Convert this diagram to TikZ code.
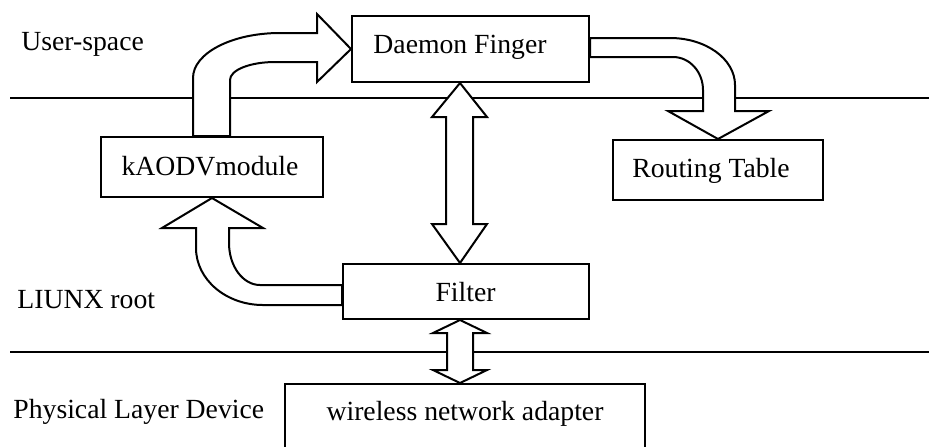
\documentclass[tikz,border=0pt]{standalone}
\usepackage{fontspec}
\setmainfont{Liberation Serif}
\begin{document}
\begin{tikzpicture}[x=0.5pt,y=-0.5pt,
  box/.style={draw,line width=1pt,inner sep=0pt,fill=white},
  lbl/.style={anchor=base,inner sep=0pt,font=\fontsize{13.85}{16}\selectfont},
  lbll/.style={lbl,anchor=base west},
  blockarrow/.style={draw,fill=white,line width=1pt,line join=miter},
  layerline/.style={line width=1pt}]
\useasboundingbox (0,0) rectangle (929,446);

% layer separators
\coordinate (l1a) at (10,98);  \coordinate (l1b) at (929,98);
\coordinate (l2a) at (10,352); \coordinate (l2b) at (929,352);
\draw[layerline] (l1a) -- (l1b);
\draw[layerline] (l2a) -- (l2b);

% layer names
\node[lbll] (us) at (21,50) {User-space};
\node[lbll] (lr) at (17,308) {LIUNX root};
\node[lbll] (pl) at (13,418) {Physical Layer Device};

% blocks
\node[box,minimum width=118.5pt,minimum height=33pt] (daemon) at (470.5,49) {};
\node[box,minimum width=105pt,minimum height=30pt] (route) at (718,170) {};
\node[box,minimum width=111pt,minimum height=30pt] (kaodv) at (212,167) {};
\node[box,minimum width=123pt,minimum height=27.5pt] (filter) at (466,291.5) {};
\node[box,minimum width=180pt,minimum height=45pt] (wlan) at (465,429) {};

% kAODV module -> Daemon Finger
\draw[blockarrow] (kaodv.north -| 193,0) -- (193,78)
  .. controls (193,53.1) and (232,33) .. (280,33) -- (317,33) -- (317,14)
  -- (daemon.west) -- (317,82) -- (317,62) -- (275,62)
  .. controls (250,62) and (230,70) .. (230,80) -- (kaodv.north -| 230,0) -- cycle;

% Daemon Finger -> Routing Table
\draw[blockarrow] (daemon.east |- 0,38) -- (670,38)
  .. controls (705.9,38) and (735,59) .. (735,85) -- (735,111) -- (769,111)
  -- (route.north) -- (668,111) -- (703,111) -- (703,90)
  .. controls (703,71.8) and (689.6,57) .. (673,57) -- (daemon.east |- 0,57) -- cycle;

% Filter -> kAODV module
\draw[blockarrow] (filter.west |- 0,305) -- (263,305)
  .. controls (226,305) and (196,279.5) .. (196,248) -- (196,228) -- (162,228)
  -- (kaodv.south) -- (263,228) -- (229,228) -- (229,243)
  .. controls (229,266.2) and (242.9,285) .. (260,285) -- (filter.west |- 0,285) -- cycle;

% Daemon Finger <-> Filter
\draw[blockarrow] (daemon.south -| 460,0) -- (487,117) -- (473,117) -- (473,224)
  -- (487,224) -- (filter.north -| 460,0) -- (432,224) -- (446,224) -- (446,117)
  -- (432,117) -- cycle;

% Filter <-> wireless network adapter
\draw[blockarrow] (filter.south -| 460,0) -- (487,333) -- (473,333) -- (473,370)
  -- (487,370) -- (wlan.north -| 460,0) -- (433,370) -- (447,370) -- (447,333)
  -- (433,333) -- cycle;

% block texts
\node[lbl] (tdaemon) at (460,53) {Daemon Finger};
\node[lbl] (troute) at (711,177) {Routing Table};
\node[lbl] (tkaodv) at (210,175) {kAODVmodule};
\node[lbl] (tfilter) at (465.5,301) {Filter};
\node[lbl] (twlan) at (465,420) {wireless network adapter};
\end{tikzpicture}
\end{document}
